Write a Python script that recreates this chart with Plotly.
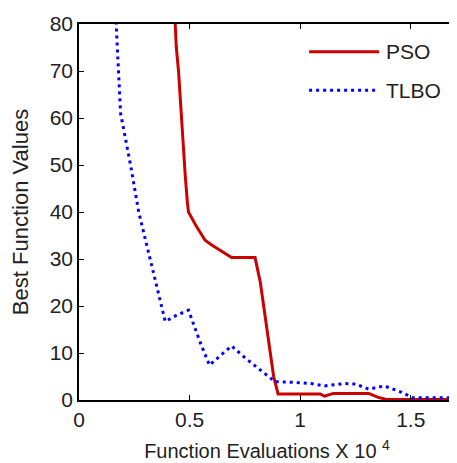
import plotly.graph_objects as go

# ---- data ----
series_names = ["PSO", "TLBO"]

pso_x = [0.43, 0.435, 0.44, 0.45, 0.46, 0.47, 0.48, 0.49, 0.495, 0.53, 0.57, 0.60, 0.65, 0.69,
         0.796, 0.82, 0.85, 0.88, 0.90, 1.00, 1.09, 1.11, 1.15, 1.31, 1.35, 1.39, 1.70]
pso_y = [85, 80, 75, 70, 62, 55, 48, 42, 40, 37, 34, 33, 31.5, 30.3,
         30.3, 25, 15, 5, 1.3, 1.3, 1.3, 0.8, 1.4, 1.4, 0.6, 0.1, 0.1]

tlbo_x = [0.165, 0.168, 0.188, 0.233, 0.27, 0.323, 0.374, 0.39, 0.44, 0.495, 0.55, 0.59, 0.64, 0.69,
          0.75, 0.80, 0.886, 0.95, 1.0, 1.05, 1.11, 1.2, 1.25, 1.31, 1.38, 1.45, 1.51, 1.6, 1.7]
tlbo_y = [85, 80, 61, 50, 40, 30, 20, 16.7, 18, 19.1, 12, 7.4, 9.5, 11.5,
          9, 7.1, 3.9, 3.8, 3.7, 3.5, 3.0, 3.5, 3.4, 2.3, 3.0, 1.8, 0.5, 0.5, 0.5]

x_ticks = [0, 0.5, 1, 1.5]
x_tick_labels = ["0", "0.5", "1", "1.5"]
y_ticks = [0, 10, 20, 30, 40, 50, 60, 70, 80]

colors = ["#cc0000", "#0000ff"]

fig = go.Figure()
fig.add_trace(go.Scatter(x=pso_x, y=pso_y, mode="lines", name=series_names[0],
                         line=dict(color=colors[0], width=3), showlegend=False))
fig.add_trace(go.Scatter(x=tlbo_x, y=tlbo_y, mode="lines", name=series_names[1],
                         line=dict(color=colors[1], width=3, dash="3px,4px"), showlegend=False))

font = "Liberation Sans, Arial, sans-serif"
tc = "#222"

axis_common = dict(showline=True, linecolor="black", linewidth=1.5, mirror="ticks",
                   ticks="inside", ticklen=5, tickwidth=1.2, tickcolor="black",
                   showgrid=False, zeroline=False, automargin=False,
                   tickfont=dict(family=font, size=21, color=tc))

fig.update_xaxes(range=[0, 1.7], tickvals=x_ticks, ticktext=x_tick_labels,
                 title=dict(text="Function Evaluations X 10 <sup>4</sup>",
                            font=dict(family=font, size=20, color=tc), standoff=14),
                 **axis_common)
fig.update_yaxes(range=[0, 80], tickvals=y_ticks,
                 title=dict(text="Best Function Values",
                            font=dict(family=font, size=22, color=tc), standoff=17),
                 **axis_common)

# manual legend (long line samples like the reference)
leg_y = [0.926, 0.824]
for i in range(2):
    fig.add_shape(type="line", xref="paper", yref="paper", x0=0.612, x1=0.798,
                  y0=leg_y[i], y1=leg_y[i],
                  line=dict(color=colors[i], width=3, dash="solid" if i == 0 else "3px,4px"))
    fig.add_annotation(xref="paper", yref="paper", x=0.812, y=leg_y[i], text=series_names[i],
                       showarrow=False, xanchor="left", yanchor="middle",
                       font=dict(family=font, size=21, color=tc))

# page body has an 8px margin, so the figure is sized/offset to compensate
fig.update_layout(width=449, height=455, margin=dict(l=71, r=2, t=16, b=63),
                  plot_bgcolor="white", paper_bgcolor="white", showlegend=False)

fig.write_html("out.html")
